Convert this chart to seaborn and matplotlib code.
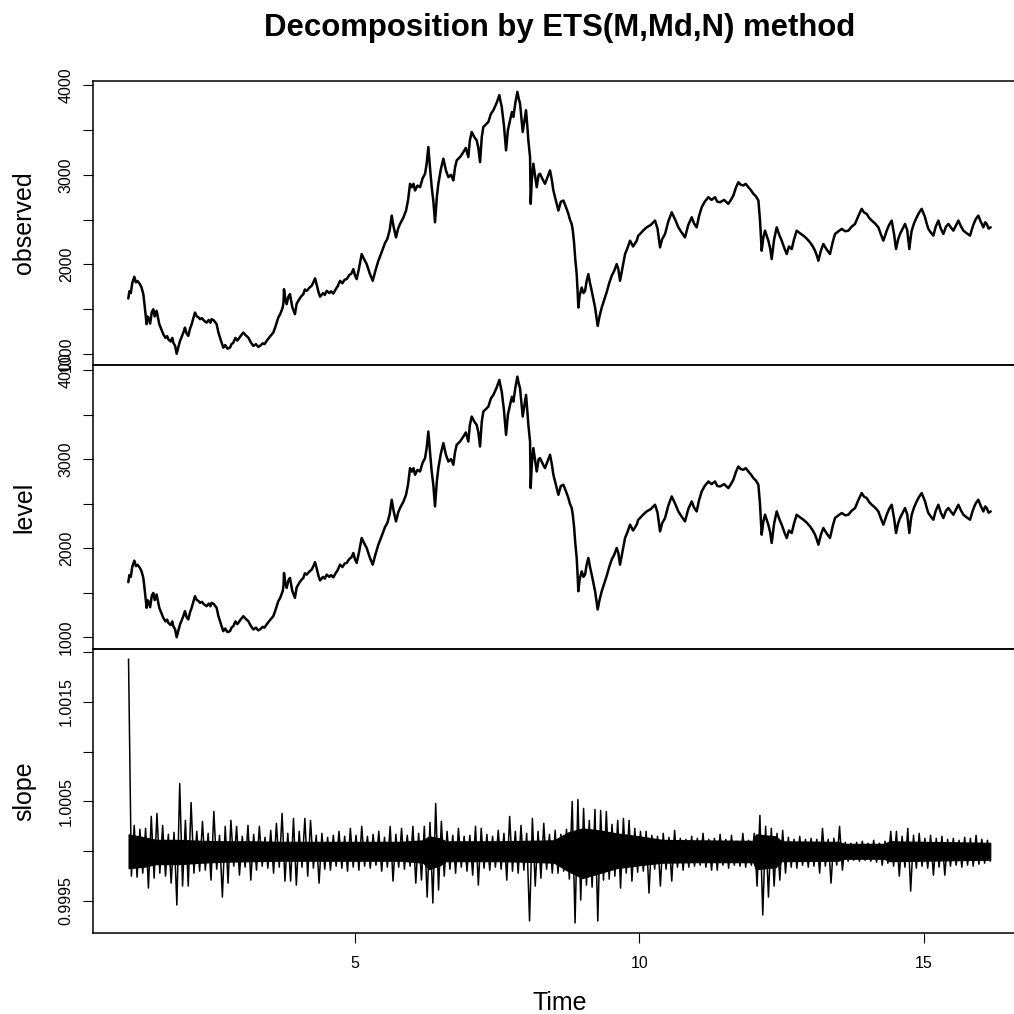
import matplotlib
matplotlib.use("Agg")
import matplotlib.pyplot as plt
import seaborn as sns

# ---------------- data ----------------
obs_time = [
    1.016, 1.035, 1.06, 1.085, 1.122, 1.15, 1.18, 1.221, 1.25, 1.280,
    1.30, 1.338, 1.35, 1.368, 1.40, 1.43, 1.456, 1.48, 1.514, 1.54,
    1.561, 1.60, 1.632, 1.67, 1.70, 1.719, 1.76, 1.79, 1.807, 1.84,
    1.866, 1.89, 1.925, 1.96, 1.99, 2.012, 2.04, 2.071, 2.10, 2.130,
    2.16, 2.188, 2.22, 2.25, 2.276, 2.31, 2.35, 2.393, 2.43, 2.46,
    2.481, 2.52, 2.569, 2.60, 2.628, 2.66, 2.686, 2.72, 2.76, 2.804,
    2.83, 2.862, 2.90, 2.93, 2.950, 2.99, 3.038, 3.08, 3.126, 3.17,
    3.214, 3.26, 3.30, 3.331, 3.38, 3.41, 3.448, 3.50, 3.54, 3.565,
    3.60, 3.653, 3.69, 3.730, 3.745, 3.753, 3.775, 3.800, 3.83, 3.858,
    3.90, 3.946, 3.975, 4.005, 4.05, 4.093, 4.12, 4.152, 4.20, 4.239,
    4.27, 4.299, 4.33, 4.36, 4.387, 4.44, 4.47, 4.504, 4.55, 4.58,
    4.621, 4.66, 4.70, 4.738, 4.78, 4.82, 4.855, 4.90, 4.94, 4.973,
    5.00, 5.031, 5.07, 5.119, 5.16, 5.207, 5.26, 5.313, 5.36, 5.412,
    5.46, 5.500, 5.53, 5.570, 5.61, 5.647, 5.68, 5.723, 5.76, 5.793,
    5.85, 5.899, 5.935, 5.969, 6.00, 6.03, 6.057, 6.10, 6.145, 6.19,
    6.233, 6.26, 6.291, 6.32, 6.350, 6.38, 6.408, 6.44, 6.467, 6.51,
    6.555, 6.60, 6.643, 6.69, 6.731, 6.76, 6.789, 6.85, 6.907, 6.95,
    6.994, 7.02, 7.053, 7.10, 7.141, 7.17, 7.200, 7.23, 7.258, 7.30,
    7.346, 7.39, 7.434, 7.49, 7.539, 7.56, 7.581, 7.62, 7.657, 7.69,
    7.727, 7.76, 7.786, 7.82, 7.856, 7.88, 7.903, 7.93, 7.950, 7.98,
    8.008, 8.03, 8.049, 8.079, 8.090, 8.11, 8.137, 8.17, 8.196, 8.23,
    8.254, 8.30, 8.342, 8.39, 8.430, 8.46, 8.489, 8.53, 8.577, 8.62,
    8.665, 8.71, 8.753, 8.78, 8.811, 8.83, 8.852, 8.875, 8.899, 8.915,
    8.928, 8.95, 8.987, 9.02, 9.046, 9.075, 9.104, 9.13, 9.163, 9.19,
    9.222, 9.245, 9.268, 9.30, 9.339, 9.38, 9.426, 9.47, 9.514, 9.56,
    9.602, 9.63, 9.661, 9.70, 9.749, 9.79, 9.837, 9.89, 9.954, 9.98,
    10.012, 10.07, 10.129, 10.20, 10.276, 10.32, 10.364, 10.40, 10.452, 10.51,
    10.569, 10.63, 10.686, 10.74, 10.803, 10.86, 10.921, 10.96, 11.008, 11.05,
    11.096, 11.15, 11.214, 11.27, 11.331, 11.37, 11.419, 11.49, 11.565, 11.61,
    11.653, 11.70, 11.741, 11.78, 11.829, 11.87, 11.917, 11.96, 12.005, 12.05,
    12.093, 12.122, 12.151, 12.18, 12.210, 12.24, 12.268, 12.30, 12.327, 12.37,
    12.415, 12.46, 12.503, 12.55, 12.591, 12.63, 12.679, 12.72, 12.766, 12.82,
    12.884, 12.94, 13.001, 13.05, 13.089, 13.12, 13.148, 13.19, 13.235, 13.29,
    13.352, 13.40, 13.440, 13.50, 13.558, 13.62, 13.675, 13.73, 13.792, 13.85,
    13.909, 13.95, 13.997, 14.04, 14.085, 14.14, 14.202, 14.25, 14.290, 14.32,
    14.349, 14.39, 14.437, 14.48, 14.513, 14.55, 14.583, 14.63, 14.671, 14.71,
    14.747, 14.77, 14.788, 14.83, 14.876, 14.92, 14.964, 14.99, 15.023, 15.05,
    15.081, 15.12, 15.169, 15.21, 15.257, 15.30, 15.345, 15.39, 15.433, 15.48,
    15.521, 15.57, 15.609, 15.65, 15.697, 15.75, 15.814, 15.86, 15.902, 15.93,
    15.960, 16.00, 16.048, 16.08, 16.107, 16.14, 16.177,
]
obs_value = [
    1620, 1700, 1680, 1790, 1862, 1800, 1815, 1780, 1740, 1668,
    1560, 1333, 1420, 1407, 1340, 1470, 1500, 1420, 1482, 1400,
    1333, 1270, 1220, 1180, 1200, 1164, 1140, 1180, 1127, 1090,
    1003, 1060, 1146, 1200, 1250, 1295, 1230, 1202, 1280, 1333,
    1400, 1463, 1420, 1410, 1389, 1400, 1370, 1351, 1380, 1350,
    1389, 1375, 1333, 1240, 1183, 1120, 1071, 1100, 1060, 1071,
    1110, 1127, 1180, 1150, 1164, 1200, 1239, 1210, 1183, 1130,
    1090, 1110, 1080, 1090, 1120, 1110, 1146, 1190, 1220, 1239,
    1300, 1407, 1450, 1519, 1580, 1724, 1620, 1556, 1640, 1668,
    1520, 1445, 1560, 1594, 1640, 1668, 1720, 1705, 1740, 1761,
    1800, 1845, 1770, 1690, 1640, 1680, 1660, 1705, 1680, 1700,
    1675, 1720, 1760, 1817, 1790, 1830, 1836, 1880, 1900, 1948,
    1880, 1836, 1950, 2116, 2060, 2004, 1900, 1817, 1930, 2041,
    2120, 2190, 2240, 2284, 2380, 2545, 2420, 2302, 2400, 2452,
    2520, 2601, 2720, 2900, 2860, 2900, 2825, 2880, 2862, 2960,
    3012, 3120, 3310, 3080, 2862, 2700, 2470, 2750, 2900, 3060,
    3180, 3050, 2974, 3000, 2937, 3080, 3161, 3200, 3254, 3300,
    3198, 3380, 3478, 3420, 3385, 3300, 3142, 3420, 3534, 3560,
    3590, 3680, 3721, 3800, 3889, 3820, 3758, 3550, 3273, 3500,
    3609, 3700, 3646, 3800, 3926, 3850, 3796, 3620, 3478, 3600,
    3721, 3550, 3385, 3198, 2676, 2950, 3124, 2980, 2862, 3000,
    3012, 2950, 2900, 2980, 3049, 2950, 2825, 2720, 2601, 2700,
    2713, 2640, 2564, 2500, 2452, 2380, 2246, 2050, 1892, 1700,
    1519, 1650, 1742, 1680, 1705, 1820, 1892, 1800, 1705, 1620,
    1519, 1420, 1314, 1420, 1519, 1600, 1690, 1790, 1873, 1930,
    2004, 1950, 1817, 1950, 2116, 2180, 2265, 2200, 2265, 2320,
    2340, 2380, 2414, 2440, 2489, 2400, 2190, 2280, 2340, 2480,
    2582, 2500, 2414, 2360, 2302, 2440, 2526, 2460, 2414, 2540,
    2638, 2700, 2750, 2720, 2750, 2700, 2694, 2720, 2676, 2720,
    2769, 2860, 2918, 2890, 2881, 2900, 2862, 2830, 2788, 2760,
    2713, 2489, 2153, 2300, 2377, 2320, 2265, 2180, 2060, 2280,
    2414, 2330, 2265, 2180, 2116, 2200, 2172, 2280, 2377, 2350,
    2321, 2290, 2246, 2200, 2153, 2100, 2041, 2150, 2228, 2170,
    2116, 2250, 2340, 2370, 2396, 2370, 2377, 2420, 2452, 2540,
    2620, 2580, 2564, 2520, 2489, 2460, 2414, 2330, 2265, 2320,
    2377, 2440, 2489, 2330, 2172, 2280, 2340, 2400, 2452, 2380,
    2172, 2300, 2377, 2460, 2526, 2580, 2620, 2580, 2526, 2460,
    2396, 2360, 2321, 2420, 2489, 2400, 2340, 2420, 2452, 2410,
    2377, 2440, 2489, 2430, 2377, 2350, 2321, 2420, 2489, 2520,
    2545, 2480, 2414, 2470, 2452, 2400, 2414,
]
# the estimated level tracks the observed series point for point
level_time = list(obs_time)
level_value = list(obs_value)

# slope: alternating local highs and lows of the daily damping factor
slope_start = 1.02
slope_step = 0.05
slope_value = [
    1.00193, 0.99975, 1.00026, 0.99974, 1.00022, 0.99978, 1.00023, 0.99963, 1.00035, 0.99973,
    1.00038, 0.99978, 1.00026, 0.99975, 1.00017, 0.99968, 1.00019, 0.99946, 1.00068, 0.99965,
    1.00031, 0.99965, 1.00049, 0.99978, 1.00020, 0.99980, 1.00030, 0.99981, 1.00018, 0.99971,
    1.00040, 0.99982, 1.00016, 0.99954, 1.00025, 0.99968, 1.00031, 0.99985, 1.00025, 0.99976,
    1.00015, 0.99984, 1.00026, 0.99971, 1.00017, 0.99981, 1.00025, 0.99985, 1.00014, 0.99983,
    1.00021, 0.99978, 1.00028, 0.99984, 1.00038, 0.99970, 1.00018, 0.99970, 1.00033, 0.99966,
    1.00020, 0.99984, 1.00033, 0.99975, 1.00031, 0.99983, 1.00016, 0.99968, 1.00018, 0.99982,
    1.00014, 0.99981, 1.00016, 0.99985, 1.00020, 0.99983, 1.00015, 0.99980, 1.00023, 0.99984,
    1.00016, 0.99981, 1.00025, 0.99985, 1.00015, 0.99983, 1.00017, 0.99986, 1.00020, 0.99980,
    1.00014, 0.99984, 1.00025, 0.99970, 1.00017, 0.99984, 1.00023, 0.99982, 1.00016, 0.99985,
    1.00025, 0.99968, 1.00018, 0.99971, 1.00025, 0.99954, 1.00029, 0.99948, 1.00048, 0.99961,
    1.00030, 0.99975, 1.00020, 0.99982, 1.00016, 0.99978, 1.00023, 0.99984, 1.00015, 0.99980,
    1.00016, 0.99976, 1.00025, 0.99966, 1.00023, 0.99983, 1.00017, 0.99981, 1.00015, 0.99984,
    1.00021, 0.99982, 1.00018, 0.99971, 1.00035, 0.99980, 1.00020, 0.99978, 1.00026, 0.99981,
    1.00018, 0.99930, 1.00033, 0.99965, 1.00020, 0.99973, 1.00028, 0.99982, 1.00017, 0.99978,
    1.00021, 0.99978, 1.00017, 0.99980, 1.00022, 0.99972, 1.00050, 0.99928, 1.00052, 0.99951,
    1.00043, 0.99966, 1.00031, 0.99964, 1.00042, 0.99930, 1.00041, 0.99971, 1.00040, 0.99972,
    1.00027, 0.99975, 1.00031, 0.99963, 1.00033, 0.99978, 1.00031, 0.99970, 1.00023, 0.99979,
    1.00020, 0.99980, 1.00020, 0.99958, 1.00016, 0.99982, 1.00015, 0.99965, 1.00018, 0.99982,
    1.00014, 0.99970, 1.00021, 0.99984, 1.00013, 0.99981, 1.00012, 0.99984, 1.00015, 0.99985,
    1.00013, 0.99986, 1.00018, 0.99984, 1.00012, 0.99981, 1.00013, 0.99981, 1.00017, 0.99986,
    1.00012, 0.99983, 1.00016, 0.99986, 1.00010, 0.99985, 1.00018, 0.99984, 1.00011, 0.99986,
    1.00018, 0.99965, 1.00036, 0.99936, 1.00025, 0.99954, 1.00023, 0.99965, 1.00018, 0.99971,
    1.00021, 0.99978, 1.00014, 0.99984, 1.00012, 0.99983, 1.00015, 0.99986, 1.00012, 0.99984,
    1.00013, 0.99985, 1.00012, 0.99978, 1.00023, 0.99985, 1.00012, 0.99968, 1.00013, 0.99986,
    1.00025, 0.99981, 1.00009, 0.99990, 1.00008, 0.99991, 1.00009, 0.99990, 1.00010, 0.99991,
    1.00008, 0.99990, 1.00011, 0.99989, 1.00008, 0.99986, 1.00010, 0.99988, 1.00020, 0.99985,
    1.00020, 0.99975, 1.00015, 0.99984, 1.00023, 0.99960, 1.00016, 0.99983, 1.00018, 0.99985,
    1.00013, 0.99983, 1.00016, 0.99976, 1.00013, 0.99984, 1.00015, 0.99976, 1.00012, 0.99985,
    1.00013, 0.99986, 1.00011, 0.99984, 1.00014, 0.99986, 1.00013, 0.99985, 1.00016, 0.99987,
    1.00012, 0.99988, 1.00011, 0.99990,
]
slope_time = [slope_start + slope_step * i for i in range(len(slope_value))]

# solid core of the slope noise
band_time = [1.02, 1.30, 1.50, 1.90, 2.30, 2.70, 3.20, 3.70, 4.30, 5.00,
             5.80, 6.20, 6.30, 6.50, 6.60, 7.50, 8.00, 8.50, 8.75, 9.00,
             9.30, 9.60, 10.0, 10.4, 11.0, 12.0, 12.05, 12.40, 12.50, 13.5,
             13.6, 14.3, 14.4, 16.17]
band_upper = [1.000170, 1.000140, 1.000115, 1.000115, 1.000105, 1.000100, 1.000100, 1.000095, 1.000095, 1.000095,
              1.000095, 1.000110, 1.000150, 1.000130, 1.000100, 1.000100, 1.000105, 1.000110, 1.000190, 1.000230,
              1.000210, 1.000180, 1.000150, 1.000115, 1.000110, 1.000105, 1.000170, 1.000150, 1.000100, 1.000095,
              1.000075, 1.000075, 1.000100, 1.000085]
band_lower = [0.999830, 0.999845, 0.999870, 0.999870, 0.999885, 0.999895, 0.999900, 0.999905, 0.999905, 0.999905,
              0.999905, 0.999885, 0.999820, 0.999860, 0.999900, 0.999900, 0.999895, 0.999885, 0.999800, 0.999730,
              0.999780, 0.999830, 0.999860, 0.999885, 0.999890, 0.999890, 0.999820, 0.999840, 0.999900, 0.999905,
              0.999925, 0.999925, 0.999900, 0.999915]

level_ticks = [1000, 1500, 2000, 2500, 3000, 3500, 4000]
level_tick_labels = ["1000", "", "2000", "", "3000", "", "4000"]
slope_ticks = [0.9995, 1.0000, 1.0005, 1.0010, 1.0015, 1.0020]
slope_tick_labels = ["0.9995", "", "1.0005", "", "1.0015", ""]
time_ticks = [5, 10, 15]
time_tick_labels = ["5", "10", "15"]

# ---------------- style ----------------
sns.set_theme(style="white")
plt.rcParams["font.family"] = ["Liberation Sans", "DejaVu Sans"]
plt.rcParams["axes.edgecolor"] = "black"
plt.rcParams["axes.linewidth"] = 1.1

W = 1014
fig = plt.figure(figsize=(W / 100, W / 100), dpi=100)

left = 92.8 / W
width = (1026.7 - 92.8) / W
h = 0.2802
ax_obs = fig.add_axes([left, 0.0796 + 2 * h, width, h])
ax_lev = fig.add_axes([left, 0.0796 + h, width, h])
ax_slp = fig.add_axes([left, 0.0796, width, h])

xlim = (0.392, 16.81)
line_kw = dict(color="black", linewidth=1.8, estimator=None, sort=False)

sns.lineplot(x=obs_time, y=obs_value, ax=ax_obs, **line_kw)
sns.lineplot(x=level_time, y=level_value, ax=ax_lev, **line_kw)

ax_slp.fill_between(band_time, band_lower, band_upper, color="black", linewidth=0.8)
sns.lineplot(x=slope_time, y=slope_value, ax=ax_slp, color="black", linewidth=1.1,
             estimator=None, sort=False)

ax_obs.set_ylim(877, 4048)
ax_lev.set_ylim(869, 4056)
ax_slp.set_ylim(0.999176, 1.00203)

for ax in (ax_obs, ax_lev, ax_slp):
    ax.set_xlim(*xlim)
    ax.set_xlabel("")
    ax.set_ylabel("")
    ax.grid(False)
    for sp in ax.spines.values():
        sp.set_visible(True)
        sp.set_color("black")
        sp.set_linewidth(1.1)
    ax.tick_params(axis="y", direction="out", length=7.2, width=0.8, colors="black",
                   labelsize=11.5, pad=6.5, left=True)
    ax.set_facecolor("none")

for ax in (ax_obs, ax_lev):
    ax.set_yticks(level_ticks, level_tick_labels)
    ax.tick_params(axis="x", bottom=False, labelbottom=False)
ax_slp.set_yticks(slope_ticks, slope_tick_labels)
ax_slp.set_xticks(time_ticks, time_tick_labels)
ax_slp.tick_params(axis="x", direction="out", length=7.2, width=0.8, colors="black",
                   labelsize=11.5, pad=9, bottom=True)

for ax in (ax_obs, ax_lev, ax_slp):
    for lbl in ax.get_yticklabels():
        lbl.set_rotation(90)
        lbl.set_va("center")

# panel names
for ax, name in ((ax_obs, "observed"), (ax_lev, "level"), (ax_slp, "slope")):
    bb = ax.get_position()
    fig.text(31.5 / W, bb.y0 + bb.height / 2, name, rotation=90, rotation_mode="anchor",
             ha="center", va="baseline", fontsize=18, color="black")

fig.text(559.7 / W, 1 - 36 / W, "Decomposition by ETS(M,Md,N) method",
         ha="center", va="baseline", fontsize=22.4, fontweight="bold", color="black")
fig.text(559.7 / W, 1 - 1010 / W, "Time", ha="center", va="baseline", fontsize=18, color="black")

fig.savefig("out.png", dpi=100, facecolor="white")
